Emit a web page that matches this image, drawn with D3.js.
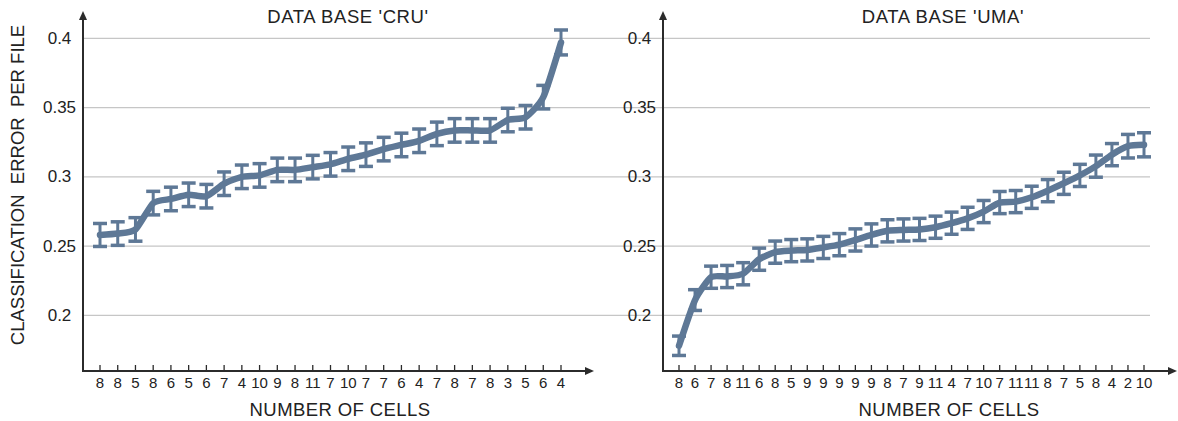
<!DOCTYPE html>
<html>
<head>
<meta charset="utf-8">
<script src="https://cdn.jsdelivr.net/npm/d3@7"></script>
<style>
  html, body { margin: 0; padding: 0; background: #fff; }
  svg { display: block; font-family: "Liberation Sans", Arial, sans-serif; }
</style>
</head>
<body>
<svg id="chart" width="1178" height="421"></svg>
<script>
// Number of cells for each file, database 'CRU'
const cruLabels = [8, 8, 5, 8, 6, 5, 6, 7, 4, 10, 9, 8, 11, 7, 10, 7, 7, 6, 4, 7, 8, 7, 8, 3, 5, 6, 4];
// Classification error per file, database 'CRU'
const cruValues = [0.258, 0.259, 0.262, 0.281, 0.284, 0.287, 0.286, 0.295, 0.300, 0.301, 0.305, 0.305, 0.307,
  0.309, 0.313, 0.316, 0.320, 0.323, 0.326, 0.331, 0.3335, 0.3335, 0.3335, 0.341, 0.343, 0.3575, 0.397];
const cruErrors = [0.0083, 0.0085, 0.0085, 0.0085, 0.0085, 0.0085, 0.0085, 0.0085, 0.0085, 0.0085, 0.0085, 0.0085, 0.0085,
  0.0085, 0.0085, 0.0085, 0.0085, 0.0085, 0.0085, 0.0085, 0.0085, 0.0085, 0.0085, 0.0085, 0.0085, 0.0085, 0.009];

// Number of cells for each file, database 'UMA'
const umaLabels = [8, 6, 7, 8, 11, 6, 8, 5, 9, 9, 9, 9, 9, 8, 7, 9, 11, 4, 7, 10, 7, 11, 11, 8, 7, 5, 8, 4, 2, 10];
// Classification error per file, database 'UMA'
const umaValues = [0.178, 0.211, 0.2275, 0.228, 0.230, 0.2405, 0.2456, 0.2467, 0.2472, 0.249, 0.251, 0.2544, 0.258,
  0.261, 0.2616, 0.262, 0.2636, 0.2665, 0.270, 0.2749, 0.2814, 0.2821, 0.2852, 0.290, 0.2953, 0.301, 0.3077, 0.316,
  0.3221, 0.3231];
const umaErrors = [0.007, 0.0075, 0.008, 0.008, 0.008, 0.008, 0.008, 0.008, 0.008, 0.008, 0.008, 0.008, 0.008,
  0.008, 0.008, 0.008, 0.008, 0.008, 0.008, 0.008, 0.008, 0.008, 0.008, 0.008, 0.008, 0.008, 0.008, 0.008,
  0.0085, 0.0087];

const yTicks = [0.2, 0.25, 0.3, 0.35, 0.4];
const yTickLabels = ["0.2", "0.25", "0.3", "0.35", "0.4"];

const svg = d3.select("#chart");
const lineColor = "#5e7896";
const axisColor = "#2b2b2b";
const gridColor = "#c6c6c6";

// shared vertical scale
const y = d3.scaleLinear().domain([0.2, 0.4]).range([315.3, 38.3]);
const axisY = 371;
const axisTop = 11;

const panels = [
  {
    title: "DATA BASE 'CRU'", titleX: 348, xLabelX: 340,
    labels: cruLabels, values: cruValues, errors: cruErrors,
    yAxisX: 83, gridEnd: 663, firstX: 100, lastX: 561, arrowEnd: 594, yLabel: true
  },
  {
    title: "DATA BASE 'UMA'", titleX: 943, xLabelX: 949,
    labels: umaLabels, values: umaValues, errors: umaErrors,
    yAxisX: 663, gridEnd: 1150, firstX: 679, lastX: 1144, arrowEnd: 1177, yLabel: false
  }
];

panels.forEach(p => {
  const g = svg.append("g");
  const n = p.values.length;
  const x = d3.scaleLinear().domain([0, n - 1]).range([p.firstX, p.lastX]);

  // horizontal gridlines
  g.append("g").selectAll("line").data(yTicks).join("line")
    .attr("x1", p.yAxisX).attr("x2", p.gridEnd)
    .attr("y1", d => y(d)).attr("y2", d => y(d))
    .attr("stroke", gridColor).attr("stroke-width", 1.3);

  // y tick labels
  g.append("g").selectAll("text").data(yTicks).join("text")
    .attr("x", p.yAxisX - 23.5).attr("y", d => y(d))
    .attr("text-anchor", "middle").attr("dominant-baseline", "central")
    .attr("font-size", 17).attr("fill", "#222")
    .text((d, i) => yTickLabels[i]);

  // axes with arrowheads
  g.append("line").attr("x1", p.yAxisX).attr("x2", p.yAxisX)
    .attr("y1", axisY + 1).attr("y2", axisTop + 6)
    .attr("stroke", axisColor).attr("stroke-width", 2);
  g.append("path")
    .attr("d", `M${p.yAxisX},${axisTop} l-4,9 l8,0 Z`)
    .attr("fill", axisColor);
  g.append("line").attr("x1", p.yAxisX - 1).attr("x2", p.arrowEnd - 6)
    .attr("y1", axisY).attr("y2", axisY)
    .attr("stroke", axisColor).attr("stroke-width", 2);
  g.append("path")
    .attr("d", `M${p.arrowEnd},${axisY} l-9,-4 l0,8 Z`)
    .attr("fill", axisColor);

  // x ticks and number-of-cells labels
  const idx = d3.range(n);
  g.append("g").selectAll("line").data(idx).join("line")
    .attr("x1", i => x(i)).attr("x2", i => x(i))
    .attr("y1", axisY - 6).attr("y2", axisY)
    .attr("stroke", axisColor).attr("stroke-width", 1.3);
  g.append("g").selectAll("text").data(idx).join("text")
    .attr("x", i => x(i)).attr("y", axisY + 11)
    .attr("text-anchor", "middle").attr("dominant-baseline", "central")
    .attr("font-size", 15).attr("fill", "#222")
    .text(i => p.labels[i]);

  // error bars
  const eb = g.append("g").attr("stroke", lineColor).attr("stroke-width", 3);
  idx.forEach(i => {
    const cx = x(i), top = y(p.values[i] + p.errors[i]), bot = y(p.values[i] - p.errors[i]);
    eb.append("line").attr("x1", cx).attr("x2", cx).attr("y1", top).attr("y2", bot);
    eb.append("line").attr("x1", cx - 7).attr("x2", cx + 7).attr("y1", top).attr("y2", top)
      .attr("stroke-width", 3.5);
    eb.append("line").attr("x1", cx - 7).attr("x2", cx + 7).attr("y1", bot).attr("y2", bot)
      .attr("stroke-width", 3.5);
  });

  // smoothed mean line
  const line = d3.line()
    .x((d, i) => x(i)).y(d => y(d))
    .curve(d3.curveCardinal.tension(0.4));
  g.append("path").datum(p.values)
    .attr("d", line)
    .attr("fill", "none").attr("stroke", lineColor)
    .attr("stroke-width", 6.5).attr("stroke-linejoin", "round").attr("stroke-linecap", "round");

  // titles
  g.append("text").attr("x", p.titleX).attr("y", 16.5)
    .attr("text-anchor", "middle").attr("dominant-baseline", "central")
    .attr("font-size", 18.5).attr("letter-spacing", 0.6).attr("fill", "#222")
    .text(p.title);
  g.append("text").attr("x", p.xLabelX).attr("y", 409)
    .attr("text-anchor", "middle").attr("dominant-baseline", "central")
    .attr("font-size", 18.5).attr("letter-spacing", 0.4).attr("fill", "#222")
    .text("NUMBER OF CELLS");

  if (p.yLabel) {
    g.append("text")
      .attr("transform", "translate(17,185) rotate(-90)")
      .attr("text-anchor", "middle").attr("dominant-baseline", "central")
      .attr("font-size", 18.5).attr("fill", "#222")
      .style("white-space", "pre")
      .text("CLASSIFICATION  ERROR  PER FILE");
  }
});
</script>
</body>
</html>
